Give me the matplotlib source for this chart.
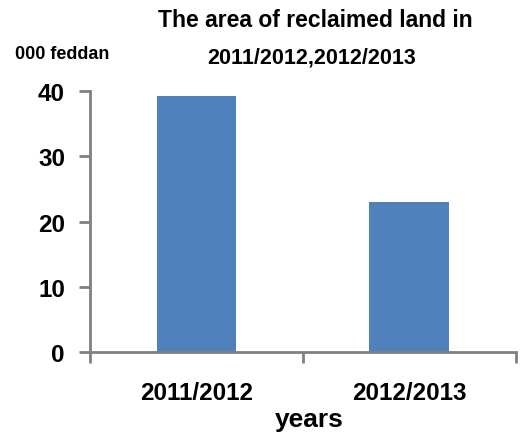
import matplotlib.pyplot as plt
import numpy as np

# Data
years = ['2011/2012', '2012/2013']
area = [39.2, 23.0]   # thousand feddan

plt.rcParams['font.family'] = ['Liberation Sans', 'DejaVu Sans']

fig = plt.figure(figsize=(5.21, 4.35), dpi=100)
ax = fig.add_axes([0.1727, 0.1885, 0.8173, 0.6])

x = np.arange(len(years))
ax.bar(x, area, width=0.375, color='#4f81bd', zorder=2)

ax.set_xlim(-0.5, 1.5)
ax.set_ylim(0, 40)
ax.set_yticks([0, 10, 20, 30, 40])

# category labels between tick marks
ax.set_xticks([-0.5, 0.5, 1.5])
ax.set_xticklabels([])
ax.set_xticks(x, minor=True)
ax.set_xticklabels(years, minor=True)
ax.tick_params(axis='x', which='minor', length=0, pad=21, labelsize=17.5)
ax.tick_params(axis='x', which='major', direction='out', length=8, width=2, color='#808080')
ax.tick_params(axis='y', direction='out', length=8, width=2, color='#808080', pad=10, labelsize=17.5)
for lab in ax.get_xticklabels(minor=True) + ax.get_yticklabels():
    lab.set_fontweight('bold')

for s in ['top', 'right']:
    ax.spines[s].set_visible(False)
for s in ['left', 'bottom']:
    ax.spines[s].set_color('#808080')
    ax.spines[s].set_linewidth(2)

# Titles and labels
fig.text(0.605, 0.954, 'The area of reclaimed land in', ha='center', va='center',
         fontsize=16.5, fontweight='bold')
fig.text(0.599, 0.867, '2011/2012,2012/2013', ha='center', va='center',
         fontsize=15.5, fontweight='bold')
fig.text(0.029, 0.875, '000 feddan', ha='left', va='center', fontsize=13, fontweight='bold')
fig.text(0.593, 0.035, 'years', ha='center', va='center', fontsize=19, fontweight='bold')

plt.savefig('out.png', dpi=100)
